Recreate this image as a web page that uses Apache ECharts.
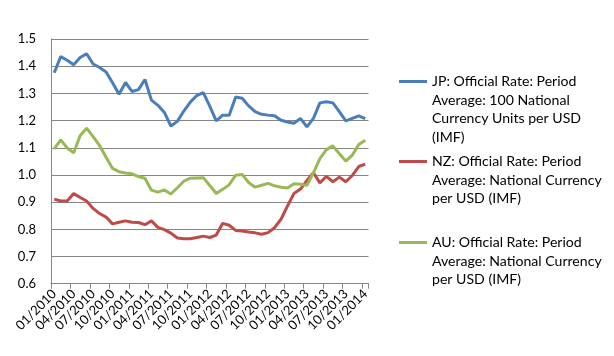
<!DOCTYPE html>
<html>
<head>
<meta charset="utf-8">
<script src="https://cdn.jsdelivr.net/npm/echarts@6/dist/echarts.min.js"></script>
<style>html,body{margin:0;padding:0;background:#fff}#c{width:614px;height:356px}</style>
</head>
<body>
<div id="c"></div>
<script>
// Months 01/2010 .. 01/2014
const categories = [
  "01/2010","02/2010","03/2010","04/2010","05/2010","06/2010","07/2010","08/2010","09/2010","10/2010","11/2010","12/2010",
  "01/2011","02/2011","03/2011","04/2011","05/2011","06/2011","07/2011","08/2011","09/2011","10/2011","11/2011","12/2011",
  "01/2012","02/2012","03/2012","04/2012","05/2012","06/2012","07/2012","08/2012","09/2012","10/2012","11/2012","12/2012",
  "01/2013","02/2013","03/2013","04/2013","05/2013","06/2013","07/2013","08/2013","09/2013","10/2013","11/2013","12/2013",
  "01/2014"
];
const jpValues = [
  1.376,1.435,1.422,1.405,1.432,1.446,1.408,1.395,1.379,1.339,1.297,1.340,
  1.307,1.314,1.351,1.275,1.256,1.230,1.180,1.197,1.235,1.268,1.292,1.303,
  1.253,1.199,1.220,1.220,1.287,1.282,1.254,1.233,1.223,1.220,1.218,1.201,
  1.195,1.190,1.208,1.177,1.208,1.265,1.269,1.265,1.233,1.199,1.208,1.217,
  1.207
];
const nzValues = [
  0.911,0.904,0.904,0.932,0.917,0.904,0.877,0.858,0.845,0.820,0.826,0.831,
  0.826,0.825,0.817,0.831,0.807,0.799,0.786,0.768,0.765,0.765,0.770,0.775,
  0.770,0.779,0.822,0.815,0.796,0.794,0.790,0.787,0.782,0.788,0.806,0.837,
  0.886,0.932,0.948,0.980,1.008,0.971,0.995,0.975,0.992,0.975,0.998,1.031,
  1.040
];
const auValues = [
  1.096,1.129,1.099,1.081,1.145,1.172,1.141,1.108,1.065,1.024,1.012,1.007,
  1.004,0.994,0.988,0.944,0.937,0.945,0.930,0.953,0.977,0.988,0.989,0.990,
  0.961,0.932,0.947,0.964,0.999,1.002,0.972,0.955,0.962,0.969,0.960,0.955,
  0.952,0.968,0.966,0.962,1.008,1.060,1.093,1.107,1.078,1.051,1.073,1.112,
  1.128
];
const seriesNames = [
  "JP: Official Rate: Period Average: 100 National Currency Units per USD (IMF)",
  "NZ: Official Rate: Period Average: National Currency per USD (IMF)",
  "AU: Official Rate: Period Average: National Currency per USD (IMF)"
];
const legendLines = [
  ["JP: Official Rate: Period","Average: 100 National","Currency Units per USD","(IMF)"],
  ["NZ: Official Rate: Period","Average: National Currency","per USD (IMF)"],
  ["AU: Official Rate: Period","Average: National Currency","per USD (IMF)"]
];
const yTicks = {min: 0.6, max: 1.5, step: 0.1};
const colors = ["#4A7EBB", "#BE4B48", "#98B954"];

const FONT = "Lato";
const LH = 18.7;
const iconY = [80, 160, 241];

const legends = seriesNames.map((name, k) => {
  const lines = legendLines[k];
  const pad = new Array(lines.length - 1).fill("");
  const total = lines.length * 2 - 1;
  return {
    data: [name],
    orient: "vertical",
    left: 399,
    top: iconY[k] - total * LH / 2 + 1.5,
    padding: 0,
    icon: "rect",
    itemWidth: 28,
    itemHeight: 3,
    formatter: () => pad.concat(lines).join("\n"),
    textStyle: {fontFamily: FONT, fontSize: 14.1, color: "#000", lineHeight: LH}
  };
});

const chart = echarts.init(document.getElementById("c"), null, {renderer: "canvas"});
chart.setOption({
  animation: false,
  backgroundColor: "#fff",
  color: colors,
  legend: legends,
  grid: {left: 51, right: 245.5, top: 39, bottom: 72.3, outerBoundsMode: "none", containLabel: false},
  xAxis: {
    type: "category",
    data: categories,
    boundaryGap: true,
    axisLine: {lineStyle: {color: "#868686", width: 1}},
    axisTick: {show: true, interval: 2, length: 5, lineStyle: {color: "#868686"}},
    axisLabel: {interval: 2, rotate: 45, margin: 8, color: "#000", fontFamily: FONT, fontSize: 13,
      showMinLabel: true, showMaxLabel: true, hideOverlap: false}
  },
  yAxis: {
    type: "value",
    min: yTicks.min, max: yTicks.max, interval: yTicks.step,
    axisLine: {show: true, lineStyle: {color: "#868686", width: 1}},
    axisTick: {show: false},
    splitLine: {lineStyle: {color: "#868686", width: 1}},
    axisLabel: {margin: 15, color: "#000", fontFamily: FONT, fontSize: 13,
      formatter: v => v.toFixed(1)}
  },
  series: [jpValues, nzValues, auValues].map((vals, k) => ({
    name: seriesNames[k],
    type: "line",
    data: vals,
    showSymbol: false,
    symbol: "none",
    lineStyle: {width: 3, color: colors[k]},
    itemStyle: {color: colors[k]}
  }))
});
</script>
</body>
</html>
